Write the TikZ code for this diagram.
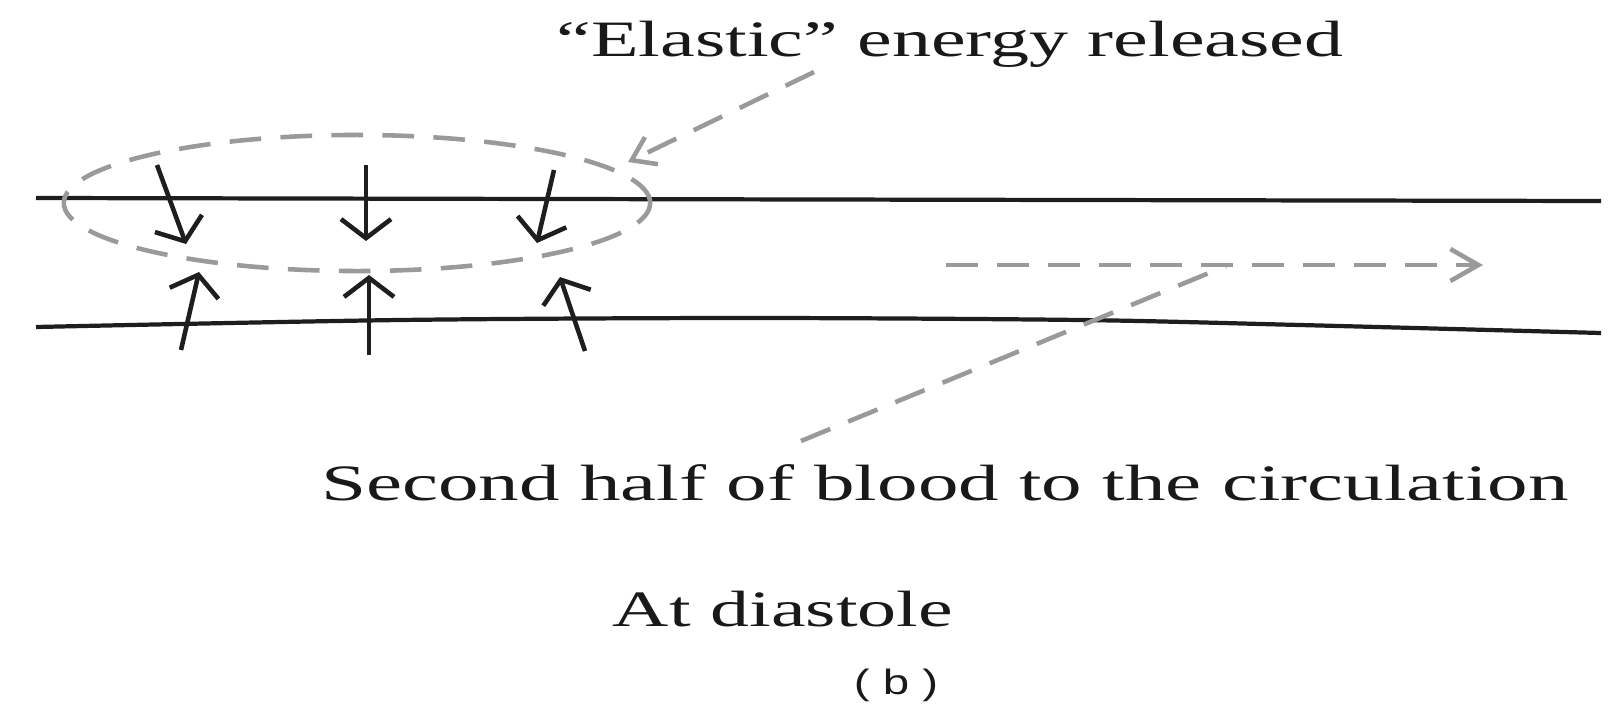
\documentclass[tikz,border=0pt]{standalone}
\usepackage{fontspec}
\setmainfont{Liberation Serif}
\newfontfamily\tagfont{Liberation Sans}
\usepackage{graphicx}
\usetikzlibrary{arrows.meta,shapes.geometric}
\definecolor{WallInk}{HTML}{1E1E1E}
\definecolor{DashGrey}{HTML}{9A9A9A}
\newcommand\stretchtext[2]{\scalebox{#1}[1]{#2}}

\begin{document}
\begin{tikzpicture}[x=0.01cm, y=-0.01cm,
   wall/.style={WallInk, line width=1.2pt},
   recoil/.style={WallInk, line width=1.3pt, -{Straight Barb[length=0.19cm, width=0.5cm]}},
   hint/.style={DashGrey, line width=1.3pt, dash pattern=on 9pt off 5.5pt},
   lbl/.style={inner sep=0pt, anchor=base, text=black!90, font=\fontsize{14.5}{16}\selectfont}]
  \useasboundingbox (0,0) rectangle (1615,709);
  % vessel walls
  \draw[wall] (36,198) -- (1601,201);
  \draw[wall] plot[smooth] coordinates {(36,327) (400,320) (750,318) (1080,320) (1300,325) (1601,333)};
  % wall recoil, top and bottom
  \draw[recoil] (157,165) -- (186,244);
  \draw[recoil] (366,165) -- (366,241);
  \draw[recoil] (554,170) -- (537,243);
  \draw[recoil] (181,350) -- (199,272);
  \draw[recoil] (369,355) -- (369,275);
  \draw[recoil] (585,351) -- (560,277);
  % elastic zone
  \node[hint, draw, ellipse, inner sep=0pt, minimum width=5.86cm, minimum height=1.36cm] (zone) at (357,203) {};
  % labels
  \node[lbl] (elastic) at (950,57) {\stretchtext{1.53}{“Elastic” energy released}};
  \node[lbl] (second) at (945,500) {\stretchtext{1.59}{Second half of blood to the circulation}};
  \node[lbl] (phase) at (783,626) {\stretchtext{1.53}{At diastole}};
  \node[inner sep=0pt, text=black!90, font=\tagfont\fontsize{10}{12}\selectfont] (panel) at (896,685) {\stretchtext{1.35}{( b )}};
  % leaders
  \coordinate (elasticFrom) at (814,72);
  \coordinate (elasticTip) at (628,162);
  \coordinate (flowStart) at (946,265);
  \coordinate (flowEnd) at (1483,265);
  \coordinate (secondFrom) at (801,441);
  \coordinate (secondTo) at (1226,266);
  \draw[hint, -{Straight Barb[length=0.22cm, width=0.3cm]}] (elasticFrom) -- (elasticTip);
  \draw[hint, -{Straight Barb[length=0.28cm, width=0.32cm]}] (flowStart) -- (flowEnd);
  \draw[hint] (secondFrom) -- (secondTo);
\end{tikzpicture}
\end{document}
